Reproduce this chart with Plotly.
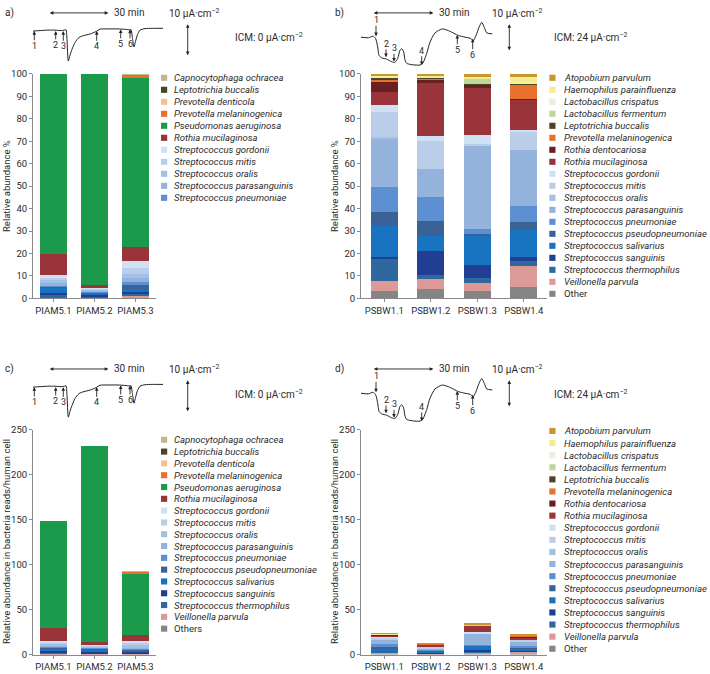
import plotly.graph_objects as go

W, H = 710, 674

# ---------------- data ----------------
samples_ac = ["PIAM5.1", "PIAM5.2", "PIAM5.3"]
samples_bd = ["PSBW1.1", "PSBW1.2", "PSBW1.3", "PSBW1.4"]

species_ac = ["Capnocytophaga ochracea", "Leptotrichia buccalis", "Prevotella denticola",
              "Prevotella melaninogenica", "Pseudomonas aeruginosa", "Rothia mucilaginosa",
              "Streptococcus gordonii", "Streptococcus mitis", "Streptococcus oralis",
              "Streptococcus parasanguinis", "Streptococcus pneumoniae",
              "Streptococcus pseudopneumoniae", "Streptococcus salivarius",
              "Streptococcus sanguinis", "Streptococcus thermophilus", "Veillonella parvula",
              "Others"]
legend_a_count = 11

species_bd = ["Atopobium parvulum", "Haemophilus parainfluenza", "Lactobacillus crispatus",
              "Lactobacillus fermentum", "Leptotrichia buccalis", "Prevotella melaninogenica",
              "Rothia dentocariosa", "Rothia mucilaginosa", "Streptococcus gordonii",
              "Streptococcus mitis", "Streptococcus oralis", "Streptococcus parasanguinis",
              "Streptococcus pneumoniae", "Streptococcus pseudopneumoniae",
              "Streptococcus salivarius", "Streptococcus sanguinis",
              "Streptococcus thermophilus", "Veillonella parvula", "Other"]

# panel a: relative abundance % (rows follow species_ac)
pct_a = [
    [0.0, 0.0, 0.1],
    [0.0, 0.0, 0.1],
    [0.0, 0.0, 0.0],
    [0.0, 0.0, 1.6],
    [80.0, 93.8, 75.1],
    [9.6, 1.6, 6.6],
    [1.2, 0.3, 3.0],
    [1.2, 0.4, 2.5],
    [1.2, 0.4, 2.0],
    [0.8, 0.3, 1.5],
    [0.9, 0.5, 1.5],
    [0.3, 0.3, 2.0],
    [2.2, 0.9, 0.7],
    [1.2, 0.8, 1.5],
    [0.8, 0.3, 0.6],
    [0.3, 0.2, 0.9],
    [0.3, 0.2, 0.3],
]

# panel c: bacteria reads / human cell (rows follow species_ac)
reads_c = [
    [0.0, 0.0, 0.1],
    [0.0, 0.0, 0.1],
    [0.0, 0.0, 0.0],
    [0.0, 0.0, 1.5],
    [118.8, 217.6, 69.5],
    [14.3, 3.7, 6.1],
    [1.8, 0.7, 2.8],
    [1.8, 0.9, 2.3],
    [1.8, 0.9, 1.8],
    [1.2, 0.7, 1.4],
    [1.3, 1.2, 1.4],
    [0.4, 0.7, 1.8],
    [3.3, 2.1, 0.6],
    [1.8, 1.9, 1.4],
    [1.2, 0.7, 0.6],
    [0.4, 0.5, 0.8],
    [0.4, 0.4, 0.3],
]

# panel b: relative abundance % (rows follow species_bd)
pct_b = [
    [0.6, 0.7, 1.5, 1.5],
    [0.6, 1.0, 0.3, 2.5],
    [0.2, 0.0, 0.3, 0.3],
    [0.3, 0.0, 2.5, 0.0],
    [0.9, 0.3, 0.3, 0.4],
    [0.9, 0.6, 0.0, 6.4],
    [4.4, 1.5, 1.3, 0.4],
    [6.1, 23.4, 21.1, 13.3],
    [2.9, 2.3, 4.0, 1.3],
    [11.4, 12.7, 0.5, 8.0],
    [0.5, 0.0, 0.0, 0.0],
    [21.6, 12.4, 37.1, 24.6],
    [11.1, 10.7, 2.5, 7.2],
    [6.4, 6.6, 0.3, 3.8],
    [13.6, 6.6, 13.3, 11.7],
    [1.0, 10.7, 6.1, 1.8],
    [9.6, 1.8, 2.2, 2.2],
    [4.7, 4.5, 3.5, 9.5],
    [3.2, 4.2, 3.2, 5.1],
]

# panel d: bacteria reads / human cell (rows follow species_bd)
reads_d = [
    [0.15, 0.1, 0.5, 0.35],
    [0.15, 0.1, 0.1, 0.55],
    [0.05, 0.0, 0.1, 0.05],
    [0.1, 0.0, 0.85, 0.0],
    [0.2, 0.05, 0.1, 0.1],
    [0.2, 0.1, 0.0, 1.4],
    [1.0, 0.2, 0.45, 0.1],
    [1.4, 2.8, 7.2, 2.9],
    [0.7, 0.3, 1.4, 0.3],
    [2.6, 1.5, 0.2, 1.75],
    [0.1, 0.0, 0.0, 0.0],
    [5.0, 1.5, 12.6, 5.4],
    [2.6, 1.3, 0.85, 1.6],
    [1.5, 0.8, 0.1, 0.85],
    [3.1, 0.8, 4.5, 2.6],
    [0.2, 1.3, 2.1, 0.4],
    [2.2, 0.2, 0.75, 0.5],
    [1.1, 0.55, 1.2, 2.1],
    [0.7, 0.5, 1.1, 1.1],
]

ticks_pct = [0, 10, 20, 30, 40, 50, 60, 70, 80, 90, 100]
ticks_reads = [0, 50, 100, 150, 200, 250]

# Short-circuit current sketches (illustrations above the panels), pixel units
sketch1_x = [33, 40, 48, 55, 61, 64.5, 66, 67, 68.3, 70, 72, 75, 79, 84, 90, 96, 100, 108,
             118, 126, 129.5, 131, 132.5, 134, 135.5, 137.5, 140, 145, 152, 163]
sketch1_y = [25.5, 25, 24.5, 24.5, 25, 24.5, 24, 34, 56, 50, 44, 37, 32, 30, 28.5, 26, 23.5,
             23.3, 23.3, 23.8, 24.3, 24, 33, 41.7, 36, 29, 24.5, 23, 22.7, 22.7]
sketch1_arrow_x = [34.3, 55.7, 63.3, 96.7, 120.7, 130]
sketch1_arrow_tip = [25.5, 25.5, 25.5, 25.5, 23.8, 24]
sketch1_label_y = [40.5, 39.5, 41, 41, 38.5, 38.5]

sketch2_x = [361, 368.3, 373.3, 375.7, 377.7, 379, 381.7, 386.7, 391.7, 395, 397.7, 400,
             401.7, 403.7, 405, 406.7, 410, 415, 420, 422.7, 426.7, 430, 435, 442.3, 448.3,
             455, 458.3, 465, 470, 473.3, 475.7, 479, 481.7, 484.3, 486.7, 492.3]
sketch2_y = [31.7, 32.3, 30.7, 33.3, 41.7, 50, 52.7, 54, 56.7, 57.3, 53.3, 45, 43.3, 46.7,
             55, 58.3, 59.3, 60, 60, 58.3, 48.3, 36.7, 27.3, 23.3, 25, 28.3, 30, 31.7, 32.7,
             35, 30.7, 21.7, 16.7, 21.7, 27.3, 28.3]
sketch2_arrow_x = [376, 386, 394, 421.7, 457.3, 472.7]
sketch2_arrow_tip = [30.7, 52, 56.5, 60, 29.5, 33.3]
sketch2_label_y = [14.5, 38.5, 43, 45.5, 44.5, 49.5]

arrow_labels = ["1", "2", "3", "4", "5", "6"]

colors = {
    "Atopobium parvulum": "#C9972D",
    "Haemophilus parainfluenza": "#F3EE91",
    "Lactobacillus crispatus": "#E8F0DD",
    "Lactobacillus fermentum": "#BDD899",
    "Leptotrichia buccalis": "#4A4529",
    "Prevotella melaninogenica": "#E8712B",
    "Prevotella denticola": "#F8BF90",
    "Capnocytophaga ochracea": "#C2B78F",
    "Pseudomonas aeruginosa": "#1A9A4A",
    "Rothia dentocariosa": "#6A2022",
    "Rothia mucilaginosa": "#98343A",
    "Streptococcus gordonii": "#D0E1F4",
    "Streptococcus mitis": "#BACEE9",
    "Streptococcus oralis": "#A2C1E6",
    "Streptococcus parasanguinis": "#93B3DD",
    "Streptococcus pneumoniae": "#5D90D2",
    "Streptococcus pseudopneumoniae": "#3B6297",
    "Streptococcus salivarius": "#1874C0",
    "Streptococcus sanguinis": "#223E93",
    "Streptococcus thermophilus": "#2E689F",
    "Veillonella parvula": "#DD9898",
    "Other": "#858585",
    "Others": "#858585",
}

FONT = "Roboto"
TXT = "#2b2b2b"
AXC = "#8a8a8a"
FS = 9.5

fig = go.Figure()

# ---------------- bars ----------------
def add_bars(samples, species, values, xa, ya, width):
    for name, vals in reversed(list(zip(species, values))):
        fig.add_trace(go.Bar(x=samples, y=vals, name=name, marker_color=colors[name],
                             marker_line_width=0, width=width, xaxis=xa, yaxis=ya,
                             showlegend=False))

add_bars(samples_ac, species_ac, pct_a, "x", "y", 0.66)
add_bars(samples_bd, species_bd, pct_b, "x2", "y2", 0.58)
add_bars(samples_ac, species_ac, reads_c, "x3", "y3", 0.66)
add_bars(samples_bd, species_bd, reads_d, "x4", "y4", 0.58)

# ---------------- sketches ----------------
for dy in (0, 362):
    fig.add_trace(go.Scatter(x=sketch1_x, y=[v + dy for v in sketch1_y], mode="lines",
                             line=dict(color="#222", width=1, shape="spline", smoothing=0.6),
                             xaxis="x5", yaxis="y5", showlegend=False, hoverinfo="skip"))
    fig.add_trace(go.Scatter(x=sketch2_x, y=[v + dy for v in sketch2_y], mode="lines",
                             line=dict(color="#222", width=1, shape="spline", smoothing=0.6),
                             xaxis="x5", yaxis="y5", showlegend=False, hoverinfo="skip"))

annotations = []
shapes = []

def txt(x, y, text, size=FS, xanchor="left", angle=0):
    annotations.append(dict(x=x, y=y, xref="x5", yref="y5", text=text, showarrow=False,
                            xanchor=xanchor, yanchor="middle", textangle=angle,
                            font=dict(family=FONT, size=size, color=TXT)))

def arrow(x, y, ax, ay, text="", both=False):
    annotations.append(dict(x=x, y=y, ax=ax, ay=ay, xref="x5", yref="y5", axref="x5",
                            ayref="y5", text=text, showarrow=True, arrowhead=2,
                            arrowsize=0.8, arrowwidth=0.9, arrowcolor="#222",
                            arrowside="end+start" if both else "end", borderpad=0,
                            font=dict(family=FONT, size=9, color=TXT)))

for dy, letter_a, letter_b in ((0, "a)", "b)"), (362, "c)", "d)")):
    # left sketch
    txt(3, 7 + dy, letter_a, 10)
    arrow(108.3, 7 + dy, 49.3, 7 + dy, both=True)
    txt(112, 7 + dy, "30 min", 10)
    txt(167, 7 + dy, "10 µA·cm<sup>−2</sup>", 10)
    arrow(187.7, 50 + dy, 187.7, 18 + dy, both=True)
    txt(233, 32 + dy, "ICM: 0 µA·cm<sup>−2</sup>", 10)
    for xx, tip, ly, lab in zip(sketch1_arrow_x, sketch1_arrow_tip, sketch1_label_y, arrow_labels):
        arrow(xx, tip + dy, xx, ly + dy, text=lab)
    # right sketch
    txt(333, 7 + dy, letter_b, 10)
    arrow(433.3, 7 + dy, 373.3, 7 + dy, both=True)
    txt(437, 7 + dy, "30 min", 10)
    txt(490, 7 + dy, "10 µA·cm<sup>−2</sup>", 10)
    arrow(509.3, 45 + dy, 509.3, 18 + dy, both=True)
    txt(552, 32 + dy, "ICM: 24 µA·cm<sup>−2</sup>", 10)
    for xx, tip, ly, lab in zip(sketch2_arrow_x, sketch2_arrow_tip, sketch2_label_y, arrow_labels):
        arrow(xx, tip + dy, xx, ly + dy, text=lab)

# y-axis titles
txt(6, 183, "Relative abundance %", FS, "center", -90)
txt(334, 183, "Relative abundance %", FS, "center", -90)
txt(6, 545, "Relative abundance in bacteria reads/human cell", FS, "center", -90)
txt(334, 545, "Relative abundance in bacteria reads/human cell", FS, "center", -90)

# ---------------- legends ----------------
def legend(names, sq_x, text_x, y0, step):
    for i, name in enumerate(names):
        cy = y0 + i * step
        shapes.append(dict(type="rect", xref="x5", yref="y5", x0=sq_x, x1=sq_x + 6.2,
                           y0=cy - 3.1, y1=cy + 3.1, fillcolor=colors[name],
                           line=dict(width=0)))
        label = name if name in ("Other", "Others") else "<i>" + name + "</i>"
        txt(text_x, cy, label, FS)

legend(species_ac[:legend_a_count], 161, 171.5, 73, 12.2)
legend(species_bd, 549.3, 562, 73, 12.2)
legend(species_ac, 161, 171.5, 441, 12.0)
legend(species_bd, 549.3, 562, 432, 12.3)

# ---------------- layout ----------------
def xdom(l, r):
    return [l / W, r / W]

def ydom(top, bottom):
    return [1 - bottom / H, 1 - top / H]

axis_common = dict(showline=True, linecolor=AXC, linewidth=1, ticks="outside", ticklen=3,
                   tickcolor=AXC, showgrid=False, zeroline=False,
                   tickfont=dict(family=FONT, size=FS, color=TXT), fixedrange=True)

layout_axes = {}
panels = [
    ("", xdom(33, 156), ydom(69, 297.3), 3, [0, 100], ticks_pct),
    ("2", xdom(361, 547), ydom(69, 297.3), 4, [0, 100], ticks_pct),
    ("3", xdom(33, 156), ydom(431, 659.3), 3, [0, 250], ticks_reads),
    ("4", xdom(361, 547), ydom(431, 659.3), 4, [0, 250], ticks_reads),
]
for suf, xd, yd, n, yr, tv in panels:
    layout_axes["xaxis" + suf] = dict(domain=xd, anchor="y" + suf, range=[-0.5, n - 0.5],
                                      type="category", **axis_common)
    layout_axes["yaxis" + suf] = dict(domain=yd, anchor="x" + suf, range=yr, tickvals=tv,
                                      **axis_common)

layout_axes["xaxis5"] = dict(domain=[0, 1], range=[0, W], visible=False, fixedrange=True,
                             anchor="y5")
layout_axes["yaxis5"] = dict(domain=[0, 1], range=[H, 0], visible=False, fixedrange=True,
                             anchor="x5")

fig.update_layout(
    width=W, height=H, margin=dict(l=0, r=0, t=0, b=0),
    barmode="stack", plot_bgcolor="rgba(0,0,0,0)", paper_bgcolor="white",
    font=dict(family=FONT, size=FS, color=TXT),
    showlegend=False, annotations=annotations, shapes=shapes,
    **layout_axes,
)

fig.write_html("out.html",
               config={"displayModeBar": False},
               post_script="document.body.style.margin='0px';"
                           "document.body.style.overflow='hidden';")
